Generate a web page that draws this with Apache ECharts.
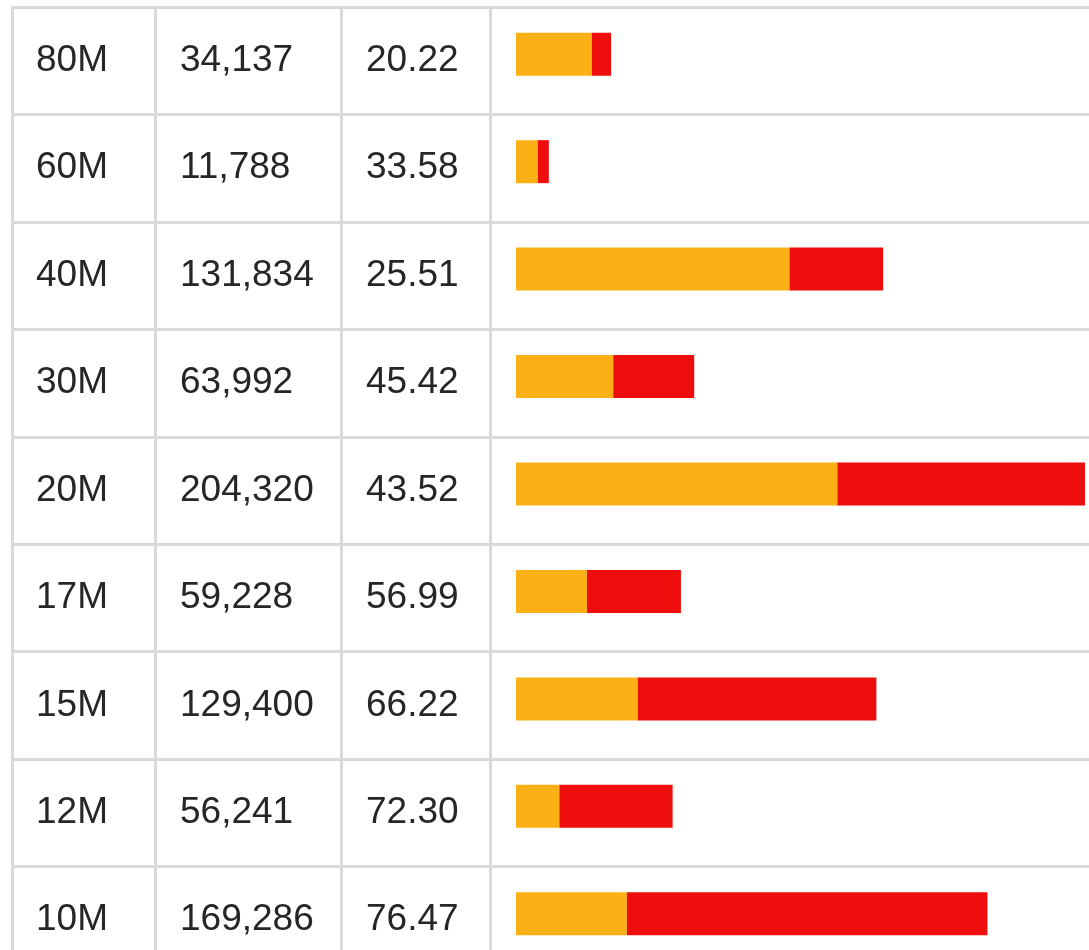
<!DOCTYPE html>
<html>
<head>
<meta charset="utf-8">
<title>table bar</title>
<script src="https://cdn.jsdelivr.net/npm/echarts@6/dist/echarts.min.js"></script>
<style>
  html, body { margin: 0; padding: 0; background: #fff; height: 950px; overflow: hidden; }
  /* taller than the window so the last row runs off the bottom, like the source */
  #chart { width: 1089px; height: 980px; }
</style>
</head>
<body>
<div id="chart"></div>
<script>
// table rows, top to bottom
let sizes = ["80M", "60M", "40M", "30M", "20M", "17M", "15M", "12M", "10M"];
let counts = [34137, 11788, 131834, 63992, 204320, 59228, 129400, 56241, 169286];
let percents = [20.22, 33.58, 25.51, 45.42, 43.52, 56.99, 66.22, 72.3, 76.47];

// bar split: red part = percent of count, orange = the rest
let redPart = counts.map((c, i) => (c * percents[i]) / 100);
let orangePart = counts.map((c, i) => c - redPart[i]);

let lineColor = "#d9d9d9";
let textColor = "#262626";
let fontFamily = "'Liberation Sans', Arial, sans-serif";
let rowTop = 7;
let tableHeight = 967;

// columns of the table (left, width)
let cols = [
  { left: 12, width: 143, margin: 24, fmt: (v, i) => sizes[i] },
  { left: 155, width: 186, margin: 25, fmt: (v, i) => counts[i].toLocaleString("en-US") },
  { left: 341, width: 149, margin: 25, fmt: (v, i) => percents[i].toFixed(2) },
  { left: 490, width: 599, margin: 0, fmt: null },
];

let grids = [];
let xAxes = [];
let yAxes = [];
cols.forEach((col, idx) => {
  grids.push({ left: col.left, width: col.width, top: rowTop, height: tableHeight });
  xAxes.push({ gridIndex: idx, type: "value", show: false });
  yAxes.push({
    gridIndex: idx,
    type: "category",
    inverse: true,
    data: sizes,
    axisLine: { show: true, lineStyle: { color: lineColor, width: 3 } },
    axisTick: { show: false },
    axisLabel: {
      show: !!col.fmt,
      inside: true,
      margin: col.margin,
      color: textColor,
      fontSize: 37,
      fontFamily: fontFamily,
      formatter: col.fmt || undefined,
    },
    splitLine: { show: true, lineStyle: { color: lineColor, width: 3 } },
  });
});

// grid for the bars
grids.push({ left: 516, right: 4, top: 0.5, height: tableHeight });
xAxes.push({ gridIndex: 4, type: "value", show: false, min: 0, max: 204320 });
yAxes.push({ gridIndex: 4, type: "category", inverse: true, data: sizes, show: false });

let myChart = echarts.init(document.getElementById("chart"));
let option = {
  animation: false,
  backgroundColor: "#fff",
  grid: grids,
  xAxis: xAxes,
  yAxis: yAxes,
  series: [
    {
      name: "orange",
      type: "bar",
      stack: "total",
      xAxisIndex: 4,
      yAxisIndex: 4,
      barWidth: 43,
      itemStyle: { color: "#fbb116" },
      data: orangePart,
    },
    {
      name: "red",
      type: "bar",
      stack: "total",
      xAxisIndex: 4,
      yAxisIndex: 4,
      barWidth: 43,
      itemStyle: { color: "#ee0d0d" },
      data: redPart,
    },
  ],
};
myChart.setOption(option);
</script>
</body>
</html>
